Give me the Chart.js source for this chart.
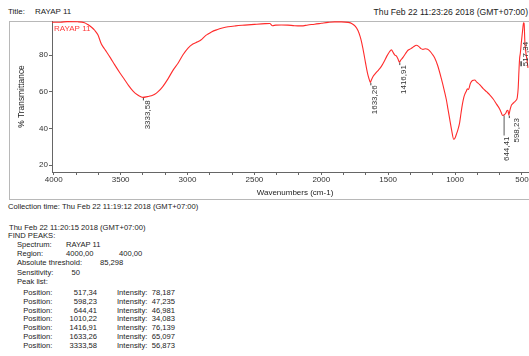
<!DOCTYPE html>
<html>
<head>
<meta charset="utf-8">
<script src="https://cdn.jsdelivr.net/npm/chart.js@4.4.1/dist/chart.umd.min.js"></script>
<style>
  html, body { margin: 0; padding: 0; width: 529px; height: 356px; overflow: hidden; background: #fff;
    font-family: "Liberation Sans", Arial, sans-serif; color: #222; }
  .t { position: absolute; white-space: nowrap; line-height: 10px; font-size: 7.6px; }
  #frame { position: absolute; left: 9px; top: 21px; width: 600px; height: 179px;
    border: 1px solid #b8b8b8; box-sizing: border-box; }
  #wrap { position: absolute; left: 10px; top: 21px; width: 531px; height: 179px; }
</style>
</head>
<body>
<div id="frame"></div>
<div id="wrap"><canvas id="ir" width="531" height="179"></canvas></div>
<div id="texts"></div>
<script>
// Spectrum: wavenumber (cm-1) and % transmittance
const wavenumbers = [4013, 3950, 3900, 3820, 3770, 3745, 3715, 3694, 3670, 3644, 3620, 3606, 3575, 3544, 3505,
  3469, 3440, 3407, 3375, 3345, 3333.58, 3300, 3270, 3245, 3220, 3185, 3146, 3110, 3071, 3035, 2996, 2960, 2924,
  2900, 2871, 2850, 2821, 2780, 2740, 2697, 2640, 2572, 2500, 2420, 2385, 2365, 2340, 2298, 2250, 2200, 2149, 2100,
  2050, 2000, 1950, 1900, 1850, 1800, 1770, 1745, 1725, 1710, 1700, 1690, 1681, 1670, 1660, 1651, 1640, 1633.26,
  1625, 1612, 1601, 1580, 1565, 1551, 1530, 1510, 1490, 1476, 1462, 1450, 1439, 1425, 1416.91, 1405, 1389, 1370,
  1352, 1330, 1310, 1290, 1270, 1255, 1240, 1220, 1205, 1190, 1170, 1152, 1130, 1102, 1080, 1065, 1053, 1040, 1025,
  1010.22, 1000, 990, 978, 966, 955, 945, 935, 928, 915, 908, 900, 885, 870, 853, 840, 816, 790, 765, 741, 715, 690,
  667, 655, 644.41, 632, 620, 610, 604, 598.23, 590, 580, 570, 555, 545, 535, 528, 522, 517.34, 512, 505, 495, 488,
  484, 478, 470, 462, 455];
const transmittance = [97.9, 97.9, 98.2, 98.1, 97.6, 96.6, 95, 93.5, 91, 86, 83.3, 81.8, 78.3, 74.6, 70.2,
  66.4, 63.3, 60.3, 58.3, 57.1, 56.873, 57.3, 57.8, 58.6, 60, 62.8, 67, 71.5, 75.5, 80, 83.8, 86, 87.2,
  88.2, 90.2, 91.3, 92.6, 93.8, 94.7, 95.4, 95.9, 96.3, 96.7, 97.1, 97.2, 96, 96.3, 96.4, 96.3, 96, 95.9, 96.4,
  96.8, 97.3, 97.8, 98.1, 98.1, 97.8, 97.1, 95.6, 93.2, 90.2, 87.5, 84, 80.5, 76, 72, 69, 66.3, 65.097,
  66.5, 68.4, 69.4, 71.2, 72.4, 73.8, 76.5, 79.4, 81.8, 82.8, 81.3, 79.9, 79.5, 77.6, 76.139, 77.3, 78.7, 80.8,
  82.6, 83.5, 84.5, 85.3, 84.6, 83.5, 83.1, 83.4, 83.1, 82.2, 80.4, 78.4, 74.3, 67, 60.5, 55.6, 50.5, 45, 38.8,
  34.083, 34.8, 36.8, 39.5, 43, 48.5, 53.2, 56.8, 58.4, 60.4, 61.6, 61.2, 64.6, 66.1, 66.4, 65.4, 63.8, 61.7, 60, 58.3, 56, 53.2,
  50.6, 48.6, 46.981, 47.4, 48.4, 49.9, 49.6, 47.235, 49.8, 52.4, 53.4, 54.4, 55.2, 56.8, 62, 72, 78.187, 81, 86.5, 93.5, 97.6,
  97.2, 87, 81, 77, 73];

// Peak list (position, intensity)
const peakPositions = [517.34, 598.23, 644.41, 1010.22, 1416.91, 1633.26, 3333.58];
const peakIntensities = [78.187, 47.235, 46.981, 34.083, 76.139, 65.097, 56.873];
// Peaks annotated on the plot
const annotatedPeaks = [3333.58, 1633.26, 1416.91, 644.41, 598.23, 517.34];

// Axis ticks
const xMajorTicks = [4000, 3500, 3000, 2500, 2000, 1500, 1000, 500];
const yTicks = [20, 40, 60, 80];

const FONT = '"Liberation Sans", Arial, sans-serif';
const fmt = (v, d) => v.toFixed(d).replace('.', ',');

// ---- header / report text ----
const texts = document.getElementById('texts');
function addText(str, left, cy, opts = {}) {
  const el = document.createElement('div');
  el.className = 't';
  el.textContent = str;
  el.style.top = (cy - 5) + 'px';
  if (opts.right !== undefined) el.style.right = opts.right + 'px';
  else if (opts.alignRight) { el.style.left = (left - 60) + 'px'; el.style.width = '60px'; el.style.textAlign = 'right'; }
  else el.style.left = left + 'px';
  if (opts.size) el.style.fontSize = opts.size + 'px';
  texts.appendChild(el);
}
addText('Title:', 8, 12.3, { size: 8 });
addText('RAYAP 11', 35, 12.3, { size: 8 });
addText('Thu Feb 22 11:23:26 2018 (GMT+07:00)', 0, 12.3, { right: 1, size: 8.6 });
addText('Collection time: Thu Feb 22 11:19:12 2018 (GMT+07:00)', 8, 207.3);
addText('Thu Feb 22 11:20:15 2018 (GMT+07:00)', 9, 227.5);
addText('FIND PEAKS:', 8, 236);
addText('Spectrum:', 17, 245);
addText('RAYAP 11', 66, 245);
addText('Region:', 17, 254.3);
addText('4000,00', 66, 254.3);
addText('400,00', 119, 254.3);
addText('Absolute threshold:', 17, 263.3);
addText('85,298', 100, 263.3);
addText('Sensitivity:', 17, 272.7);
addText('50', 71.5, 272.7);
addText('Peak list:', 17, 282.3);
peakPositions.forEach((p, i) => {
  const cy = 292.7 + i * 8.9;
  addText('Position:', 23.3, cy);
  addText(fmt(p, 2), 97, cy, { alignRight: true });
  addText('Intensity:', 117, cy);
  addText(fmt(peakIntensities[i], 3), 151.7, cy);
});

// ---- peak annotations + in-plot legend ----
const peakLabels = {
  id: 'peakLabels',
  afterDatasetsDraw(chart) {
    const { ctx, chartArea, scales: { x, y } } = chart;
    ctx.save();
    ctx.font = '8px ' + FONT;
    ctx.fillStyle = '#333';
    annotatedPeaks.forEach(pos => {
      const idx = peakPositions.indexOf(pos);
      const px = x.getPixelForValue(pos);
      const py = y.getPixelForValue(peakIntensities[idx]);
      let dx = 4.5, start = py + 3;
      ctx.strokeStyle = '#444';
      ctx.lineWidth = 1;
      if (pos === 644.41) {
        // long leader to keep it clear of the neighbouring label
        ctx.strokeStyle = '#888';
        ctx.lineWidth = 1.4;
        ctx.beginPath(); ctx.moveTo(px + 1.5, py); ctx.lineTo(px + 1.5, py + 20); ctx.stroke();
        start = py + 21;
      } else if (pos === 517.34) {
        dx = 6.5; start = py - 16.5;
        ctx.lineWidth = 1.5;
        ctx.beginPath(); ctx.moveTo(px + 1.5, py + 3); ctx.lineTo(px + 1.5, py + 8); ctx.stroke();
      } else {
        if (pos === 598.23) dx = 7.5;
        ctx.beginPath(); ctx.moveTo(px + 0.5, py + 0.5); ctx.lineTo(px + 0.5, py + 3); ctx.stroke();
      }
      ctx.save();
      ctx.translate(px + dx, start);
      ctx.rotate(-Math.PI / 2);
      ctx.textAlign = 'right';
      ctx.textBaseline = 'middle';
      ctx.fillText(fmt(pos, 2), 0, 0);
      ctx.restore();
    });
    ctx.fillStyle = '#ff3b3b';
    ctx.textAlign = 'left';
    ctx.textBaseline = 'middle';
    ctx.fillText(chart.data.datasets[0].label, chartArea.left + 2, chartArea.top + 7.5);
    ctx.restore();
  }
};

new Chart(document.getElementById('ir'), {
  type: 'line',
  data: {
    datasets: [{
      label: 'RAYAP 11',
      data: wavenumbers.map((w, i) => ({ x: w, y: transmittance[i] })),
      borderColor: '#ff2b2b',
      borderWidth: 1.1,
      pointRadius: 0,
      cubicInterpolationMode: 'monotone',
      fill: false
    }]
  },
  options: {
    responsive: false,
    animation: false,
    devicePixelRatio: 1,
    layout: { padding: { top: 0, left: 0, right: 3, bottom: 0 } },
    plugins: { legend: { display: false }, tooltip: { enabled: false } },
    scales: {
      x: {
        type: 'linear',
        reverse: true,
        min: 380,
        max: 4013,
        afterBuildTicks(scale) {
          const t = [];
          xMajorTicks.forEach(m => {
            t.push({ value: m });
            if (m > 500) { t.push({ value: m - 500 / 3 }); t.push({ value: m - 1000 / 3 }); }
          });
          scale.ticks = t;
        },
        afterFit(scale) { scale.height = 28; scale.paddingLeft = 0; scale.paddingRight = 0; },
        ticks: {
          autoSkip: false, maxRotation: 0, minRotation: 0, padding: 0, color: '#333',
          font: { size: 8, family: FONT },
          callback: v => (xMajorTicks.includes(v) ? String(v) : '')
        },
        grid: { drawOnChartArea: false, drawTicks: true, tickLength: 3, color: '#666' },
        border: { display: true, color: '#666', width: 1 },
        title: { display: true, text: 'Wavenumbers (cm-1)', color: '#222',
          font: { size: 8, family: FONT }, padding: { top: 0, bottom: 2.2 } }
      },
      y: {
        min: 16.2,
        max: 98.55,
        afterBuildTicks(scale) { scale.ticks = yTicks.map(v => ({ value: v })); },
        afterFit(scale) { scale.width = 42; scale.paddingTop = 0; scale.paddingBottom = 0; },
        ticks: { padding: 1, color: '#333', font: { size: 8, family: FONT } },
        grid: { drawOnChartArea: false, drawTicks: true, tickLength: 3, color: '#666' },
        border: { display: true, color: '#666', width: 1 },
        title: { display: true, text: '% Transmittance', color: '#222',
          font: { size: 8.4, family: FONT }, padding: { top: 7, bottom: 0 } }
      }
    }
  },
  plugins: [peakLabels]
});
</script>
</body>
</html>
